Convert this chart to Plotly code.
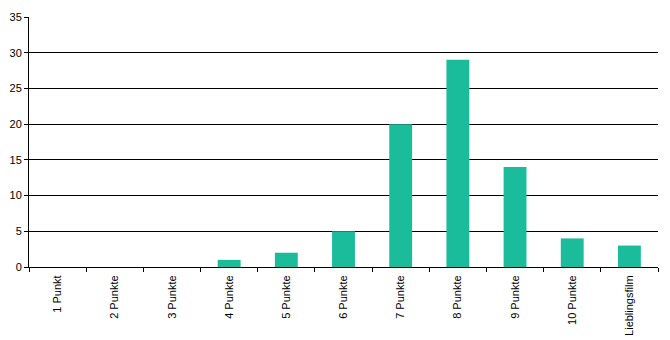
import plotly.graph_objects as go

categories = ["1 Punkt", "2 Punkte", "3 Punkte", "4 Punkte", "5 Punkte", "6 Punkte",
              "7 Punkte", "8 Punkte", "9 Punkte", "10 Punkte", "Lieblingsfilm"]
values = [0, 0, 0, 1, 2, 5, 20, 29, 14, 4, 3]
y_ticks = [0, 5, 10, 15, 20, 25, 30, 35]

fig = go.Figure(go.Bar(x=categories, y=values, marker=dict(color="#1abc9c", line=dict(width=0))))

fig.update_layout(
    width=670, height=340,
    margin=dict(l=29, r=12, t=17, b=73),
    paper_bgcolor="white", plot_bgcolor="white",
    bargap=0.6,
    showlegend=False,
    font=dict(family="Liberation Sans, Arial, sans-serif", color="black", size=11),
)
fig.update_xaxes(
    tickangle=-90, tickfont=dict(size=11),
    showline=True, linecolor="black", linewidth=1,
    ticks="outside", tickson="boundaries", ticklen=4, tickcolor="black",
    ticklabelstandoff=3, automargin=False,
    showgrid=False,
)
fig.update_yaxes(
    range=[0, 35], tickvals=y_ticks,
    showline=True, linecolor="black", linewidth=1,
    ticks="outside", ticklen=4, tickcolor="black",
    showgrid=True, gridcolor="black", gridwidth=1,
    zeroline=False, automargin=False,
)
fig.write_html("out.html")
